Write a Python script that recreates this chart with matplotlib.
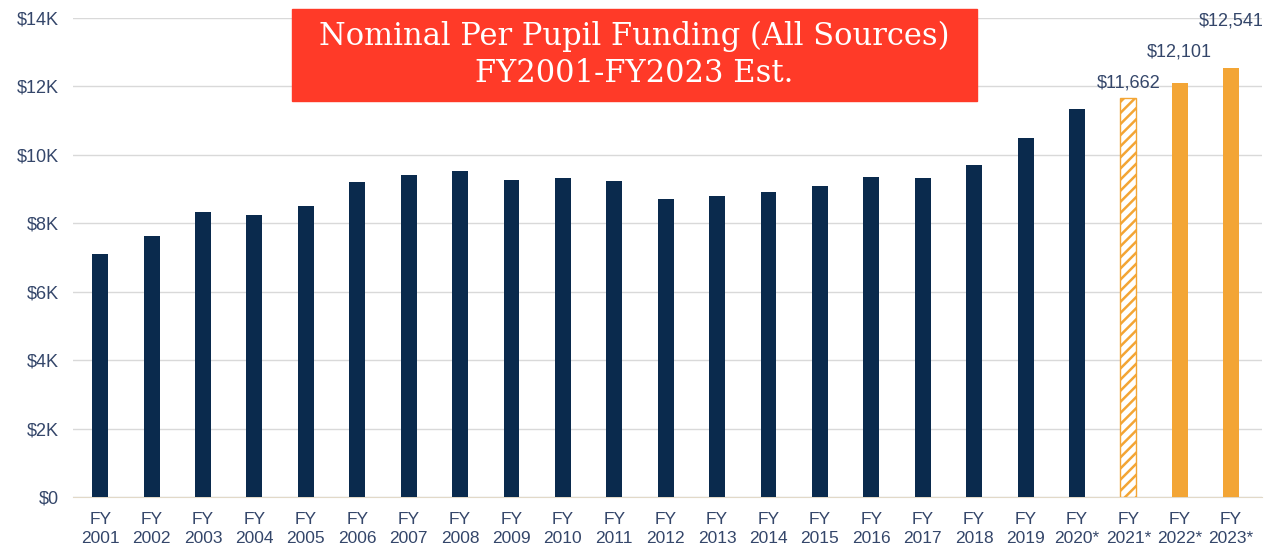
import matplotlib.pyplot as plt
import numpy as np

# Nominal per pupil funding, dollars
years = ['2001', '2002', '2003', '2004', '2005', '2006', '2007', '2008', '2009', '2010',
         '2011', '2012', '2013', '2014', '2015', '2016', '2017', '2018', '2019', '2020*',
         '2021*', '2022*', '2023*']
funding = [7100, 7630, 8330, 8240, 8510, 9210, 9410, 9530, 9270, 9320,
           9240, 8710, 8800, 8920, 9090, 9350, 9320, 9700, 10490, 11340,
           11662, 12101, 12541]
labeled = {20: '$11,662', 21: '$12,101', 22: '$12,541'}
label_offsets = {20: 5, 21: 16, 22: 28}
y_ticks = [0, 2000, 4000, 6000, 8000, 10000, 12000, 14000]
y_labels = ['$0', '$2K', '$4K', '$6K', '$8K', '$10K', '$12K', '$14K']

navy = '#0a2a4d'
orange = '#f3a535'
txt = '#34466a'

plt.rcParams['font.family'] = ['Liberation Sans', 'DejaVu Sans']
plt.rcParams['hatch.linewidth'] = 1.8

fig = plt.figure(figsize=(12.68, 5.49), dpi=100)
ax = fig.add_axes([73 / 1268, 1 - 497 / 549, (1262 - 73) / 1268, (497 - 18) / 549])

x = np.arange(len(years))
for i, v in enumerate(funding):
    if i < 20:
        ax.bar(x[i], v, width=0.31, color=navy, zorder=3)
    elif i == 20:
        ax.bar(x[i], v, width=0.31, color='white', edgecolor=orange,
               hatch='///', linewidth=1.0, zorder=3)
    else:
        ax.bar(x[i], v, width=0.31, color=orange, zorder=3)

for i, s in labeled.items():
    ax.annotate(s, (x[i], funding[i]), xytext=(0, label_offsets[i]), textcoords='offset points',
                ha='center', va='bottom', fontsize=13, color=txt, annotation_clip=False)

ax.set_ylim(0, 14000)
ax.set_xlim(-0.53, 22.6)
ax.set_yticks(y_ticks)
ax.set_yticklabels(y_labels, fontsize=13, color=txt)
ax.set_xticks(x)
ax.set_xticklabels(['FY\n' + y for y in years], fontsize=12.5, color=txt, linespacing=1.3)
ax.tick_params(length=0)
ax.tick_params(axis='x', pad=11)
ax.tick_params(axis='y', pad=10)
ax.grid(axis='y', color='#d9d9d9', linewidth=1, zorder=0)
for s in ['top', 'right', 'left']:
    ax.spines[s].set_visible(False)
ax.spines['bottom'].set_color('#e2d9c8')

# red title box drawn over the axes
fig.patches.append(plt.Rectangle((292 / 1268, 1 - 101 / 549), (977 - 292) / 1268, 92 / 549,
                                 transform=fig.transFigure, color='#ff3a28', zorder=5))
fig.text((292 + 977) / 2 / 1268, 1 - 55 / 549,
         'Nominal Per Pupil Funding (All Sources)\nFY2001-FY2023 Est.',
         ha='center', va='center', fontsize=22, color='white', family='DejaVu Serif',
         linespacing=1.25, zorder=6)

fig.savefig('out.png', dpi=100)
